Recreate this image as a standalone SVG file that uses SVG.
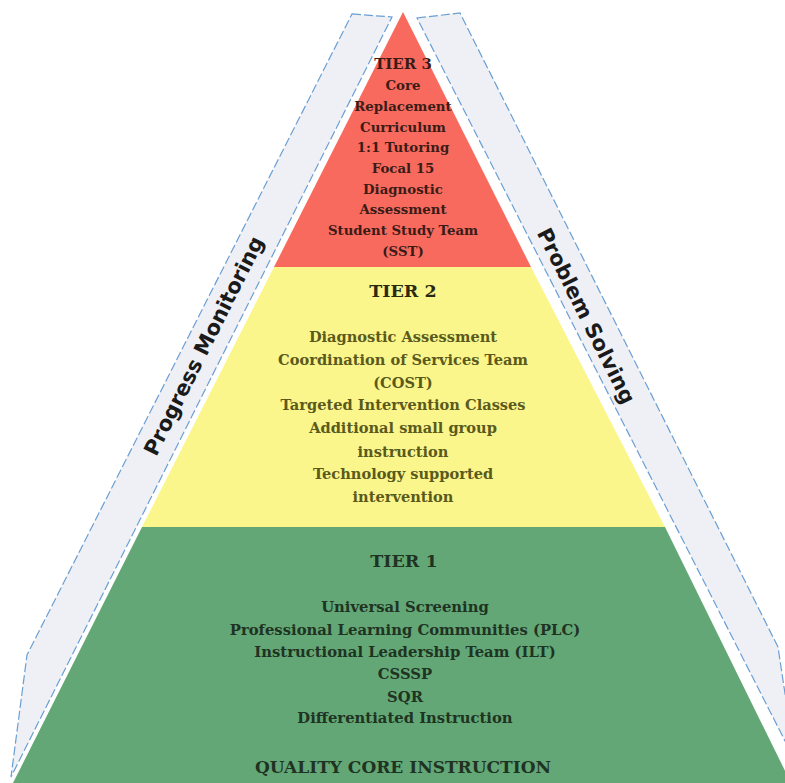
<svg xmlns="http://www.w3.org/2000/svg" width="785" height="783" viewBox="0 0 785 783">
<defs>
<style>
.band{fill:#eef0f6;stroke:#6a9fd4;stroke-width:1.2;stroke-dasharray:9 3}
.t{font-family:"DejaVu Serif","Liberation Serif",serif;font-weight:bold;text-anchor:middle}
.t3{font-size:13.3px;fill:#3a1c16}
.t2{font-size:14.6px;fill:#5a5a1c}
.t1{font-size:14.8px;fill:#1f3322}
.h{font-size:17.5px}
.side{font-family:"DejaVu Sans","Liberation Sans",sans-serif;font-weight:bold;font-size:21px;fill:#1a1a1a;text-anchor:middle}
</style>
</defs>
<rect width="785" height="783" fill="#ffffff"/>
<g id="band-left">
<polygon class="band" points="352,14 392,17 11,777 27,655"/>
<text class="side" transform="translate(204,346) rotate(-63.4)" dy="7">Progress Monitoring</text>
</g>
<g id="band-right">
<polygon class="band" points="417,18 460,13 778,647 792,740 810,790"/>
<text class="side" transform="translate(586,316) rotate(63.4)" dy="7">Problem Solving</text>
</g>
<g id="tier1">
<polygon points="142,527 665,527 791,783 13,783" fill="#63a776"/>
<text class="t t1" x="404" y="567" style="font-size:17.5px">TIER 1</text>
<text class="t t1" x="405" y="612">Universal Screening</text>
<text class="t t1" x="405" y="635">Professional Learning Communities (PLC)</text>
<text class="t t1" x="405" y="657">Instructional Leadership Team (ILT)</text>
<text class="t t1" x="405" y="679">CSSSP</text>
<text class="t t1" x="405" y="702">SQR</text>
<text class="t t1" x="405" y="723">Differentiated Instruction</text>
<text class="t t1" x="403" y="773" style="font-size:17px">QUALITY CORE INSTRUCTION</text>
</g>
<g id="tier2">
<polygon points="274,267 531,267 665,527 142,527" fill="#fbf68c"/>
<text class="t h" x="403" y="297" fill="#2a2a12">TIER 2</text>
<text class="t t2" x="403" y="342">Diagnostic Assessment</text>
<text class="t t2" x="403" y="365">Coordination of Services Team</text>
<text class="t t2" x="403" y="388">(COST)</text>
<text class="t t2" x="403" y="410">Targeted Intervention Classes</text>
<text class="t t2" x="403" y="433">Additional small group</text>
<text class="t t2" x="403" y="457">instruction</text>
<text class="t t2" x="403" y="479">Technology supported</text>
<text class="t t2" x="403" y="502">intervention</text>
</g>
<g id="tier3">
<polygon points="403,12 531,267 274,267" fill="#f8695e"/>
<text class="t t3" x="403" y="69" style="font-size:15px">TIER 3</text>
<text class="t t3" x="403" y="90">Core</text>
<text class="t t3" x="403" y="111">Replacement</text>
<text class="t t3" x="403" y="131.5">Curriculum</text>
<text class="t t3" x="403" y="152">1:1 Tutoring</text>
<text class="t t3" x="403" y="173">Focal 15</text>
<text class="t t3" x="403" y="193.5">Diagnostic</text>
<text class="t t3" x="403" y="214">Assessment</text>
<text class="t t3" x="403" y="235">Student Study Team</text>
<text class="t t3" x="403" y="255.5">(SST)</text>
</g>
</svg>
